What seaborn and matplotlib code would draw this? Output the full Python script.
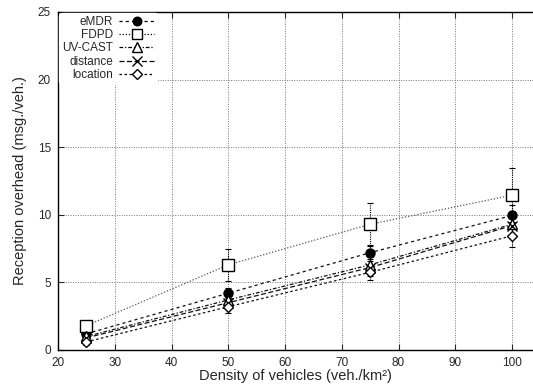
import matplotlib
matplotlib.use("Agg")
import matplotlib.pyplot as plt
import seaborn as sns
import pandas as pd
import numpy as np

density = [25, 50, 75, 100]
series_names = ["eMDR", "FDPD", "UV-CAST", "distance", "location"]
emdr = [1.2, 4.2, 7.2, 9.95]
fdpd = [1.8, 6.3, 9.3, 11.45]
uvcast = [1.0, 3.7, 6.3, 9.3]
distance = [0.9, 3.5, 6.1, 9.2]
location = [0.6, 3.2, 5.75, 8.45]
emdr_err = [0.2, 0.35, 0.6, 0.8]
fdpd_err = [0.3, 1.2, 1.6, 2.0]
uvcast_err = [0.2, 0.4, 0.6, 0.8]
distance_err = [0.2, 0.4, 0.6, 0.8]
location_err = [0.2, 0.45, 0.55, 0.8]

x_ticks = [20, 30, 40, 50, 60, 70, 80, 90, 100]
y_ticks = [0, 5, 10, 15, 20, 25]

values = [emdr, fdpd, uvcast, distance, location]
errors = [emdr_err, fdpd_err, uvcast_err, distance_err, location_err]

df = pd.DataFrame({
    "density": density * len(series_names),
    "value": sum(values, []),
    "err": sum(errors, []),
    "series": sum([[n] * len(density) for n in series_names], []),
})

sns.set_style("white")
plt.rcParams["font.family"] = ["Liberation Sans", "DejaVu Sans"]

fig = plt.figure(figsize=(5.33, 3.89), dpi=100)
ax = fig.add_axes([58 / 533, 1 - 350 / 389, 1 - 58 / 533, (350 - 12) / 389])

styles = {
    "eMDR": dict(marker="o", mfc="black", ms=6.5, ls=(0, (2.5, 2.5)), color="#111111"),
    "FDPD": dict(marker="s", mfc="white", ms=8, ls=(0, (1, 1.5)), color="#555555"),
    "UV-CAST": dict(marker="^", mfc="white", ms=7, ls=(0, (3, 1.5, 1, 1.5)), color="#111111"),
    "distance": dict(marker="x", mfc="black", ms=7, ls=(0, (4, 2)), color="#111111"),
    "location": dict(marker="D", mfc="white", ms=5.5, ls=(0, (2, 2)), color="#111111"),
}

handles = []
for name in series_names:
    sub = df[df["series"] == name]
    st = styles[name]
    sns.lineplot(data=sub, x="density", y="value", ax=ax, color=st["color"],
                 linestyle=st["ls"], linewidth=0.9, legend=False)
    eb = ax.errorbar(sub["density"], sub["value"], yerr=sub["err"], fmt="none",
                     ecolor="black", elinewidth=0.8, capsize=2, capthick=0.8)
    eb[2][0].set_linestyle((0, (1, 1)))
    ax.plot(sub["density"], sub["value"], linestyle="none", marker=st["marker"],
            markerfacecolor=st["mfc"], markeredgecolor="black", markersize=st["ms"],
            markeredgewidth=1.0, zorder=5)
    h, = ax.plot([], [], color="black", linestyle=st["ls"], linewidth=0.9,
                 marker=st["marker"], markerfacecolor=st["mfc"], markeredgecolor="black",
                 markersize=st["ms"] * 0.95, markeredgewidth=1.0)
    handles.append(h)

ax.set_xlim(20, 103.7)
ax.set_ylim(0, 25)
ax.set_xticks(x_ticks)
ax.set_yticks(y_ticks)
ax.grid(True, color="#777777", linestyle=(0, (1, 1.5)), linewidth=0.7)
ax.set_axisbelow(True)
for s in ["left", "bottom", "top"]:
    ax.spines[s].set_visible(True)
    ax.spines[s].set_color("black")
    ax.spines[s].set_linewidth(1.0)
ax.spines["right"].set_visible(False)
ax.tick_params(axis="both", direction="in", length=4, width=0.8, labelsize=8.5,
               top=True, bottom=True, left=True, right=False, pad=5)
ax.set_xlabel("Density of vehicles (veh./km\u00b2)", fontsize=10.5, labelpad=0)
ax.set_ylabel("Reception overhead (msg./veh.)", fontsize=10.5, labelpad=8)

leg = ax.legend(handles, series_names, loc="upper left", bbox_to_anchor=(0.0, 1.0),
                markerfirst=False, frameon=True, fontsize=8.5, handlelength=3.0,
                labelspacing=0.1, handletextpad=0.5, borderaxespad=0.1, borderpad=0.25)
leg.get_frame().set_edgecolor("white")
leg.get_frame().set_facecolor("white")
leg.get_frame().set_alpha(1.0)
for col in leg._legend_handle_box.get_children():
    col.align = "right"

fig.savefig("out.png", dpi=100)
